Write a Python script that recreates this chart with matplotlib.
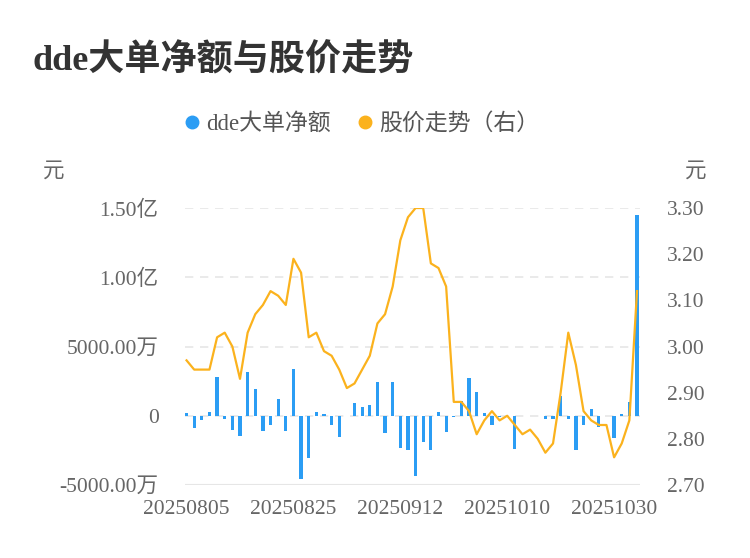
import matplotlib
matplotlib.use('Agg')
import matplotlib.pyplot as plt
from matplotlib.lines import Line2D
import numpy as np

plt.rcParams['font.family'] = ['Liberation Serif', 'Noto Sans CJK SC']
plt.rcParams['axes.unicode_minus'] = False

# dde大单净额 (单位: 万元), 60 个交易日
dde_values = [200, -900, -316, 240, 2795, -220, -1000, -1460, 3160, 1900,
              -1090, -656, 1190, -1090, 3350, -4540, -3040, 290, 100, -680,
              -1530, -30, 950, 610, 800, 2450, -1240, 2450, -2360, -2500,
              -4330, -1900, -2450, 270, -1140, -120, 1070, 2750, 1700, 220,
              -650, -120, -80, -2430, -50, -50, 0, -240, -220, 1410,
              -220, -2500, -680, 490, -780, -50, -1630, 150, 1020, 14500]

# 股价 (元)
price_values = [2.97, 2.95, 2.95, 2.95, 3.02, 3.03, 3.00, 2.93, 3.03, 3.07,
                3.09, 3.12, 3.11, 3.09, 3.19, 3.16, 3.02, 3.03, 2.99, 2.98,
                2.95, 2.91, 2.92, 2.95, 2.98, 3.05, 3.07, 3.13, 3.23, 3.28,
                3.30, 3.30, 3.18, 3.17, 3.13, 2.88, 2.88, 2.86, 2.81, 2.84,
                2.86, 2.84, 2.85, 2.83, 2.81, 2.82, 2.80, 2.77, 2.79, 2.90,
                3.03, 2.96, 2.86, 2.84, 2.83, 2.83, 2.76, 2.79, 2.84, 3.12]

date_labels = ['20250805', '20250825', '20250912', '20251010', '20251030']
date_idx = [0, 14, 28, 42, 56]

left_ticks = [-5000, 0, 5000, 10000, 15000]
left_labels = ['-5000.00万', '0', '5000.00万', '1.00亿', '1.50亿']
right_ticks = [2.70, 2.80, 2.90, 3.00, 3.10, 3.20, 3.30]

blue = '#2b9df4'
orange = '#fbb21d'
txt = '#666666'

fig = plt.figure(figsize=(7.5, 5.58), dpi=100)
ax = fig.add_axes([0.2467, 0.1308, 0.6067, 0.4964])
ax2 = ax.twinx()

x = np.arange(len(dde_values))
ax.bar(x, dde_values, width=0.42, color=blue, zorder=3)
ax.set_xlim(-0.2, 59.4)
ax.set_ylim(-5000, 15000)
ax.set_yticks(left_ticks)
ax.set_yticklabels(left_labels)
for t in left_ticks[1:]:
    ax.axhline(t, color='#e6e6e6', lw=1.2, ls=(0, (5, 4)), zorder=1)
ax.axhline(-5000, color='#e6e6e6', lw=1.5, zorder=2)

ax2.plot(x, price_values, color=orange, lw=1.6, zorder=4)
ax2.set_ylim(2.70, 3.30)
ax2.set_yticks(right_ticks)
ax2.set_yticklabels(['%.2f' % v for v in right_ticks])

ax.set_xticks(date_idx)
ax.set_xticklabels(date_labels)

for a in (ax, ax2):
    for s in a.spines.values():
        s.set_visible(False)
    a.tick_params(length=0, labelsize=15.5, colors=txt)
ax.tick_params(axis='y', pad=19)
ax2.tick_params(axis='y', pad=19.5)
ax.tick_params(axis='x', pad=11)

fig.text(0.044, 0.89, 'dde大单净额与股价走势', fontsize=26, fontweight='bold',
         color='#333333', va='center', ha='left')
fig.text(0.072, 0.692, '元', fontsize=15.5, color=txt, ha='center', va='center')
fig.text(0.928, 0.692, '元', fontsize=15.5, color=txt, ha='center', va='center')

handles = [Line2D([], [], marker='o', ls='', color=blue, markersize=9),
           Line2D([], [], marker='o', ls='', color=orange, markersize=9)]
fig.legend(handles, ['dde大单净额', '股价走势（右）'], loc='center',
           bbox_to_anchor=(0.48, 0.778), ncol=2, frameon=False,
           fontsize=16.5, labelcolor='#555555', handletextpad=0.1,
           columnspacing=1.0, handlelength=1.0)

fig.savefig('out.png', dpi=100)
